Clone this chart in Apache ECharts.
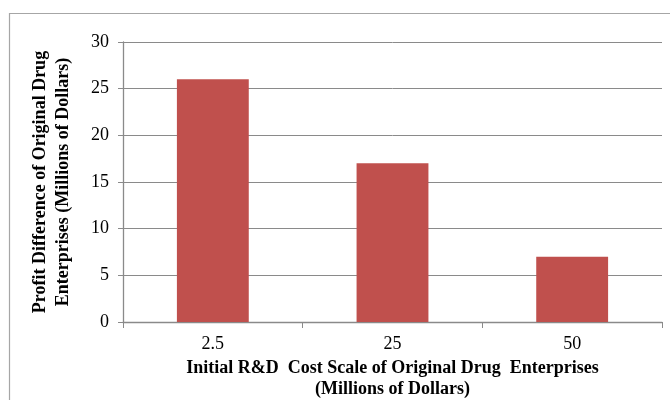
<!DOCTYPE html>
<html>
<head>
<meta charset="utf-8">
<script src="https://cdn.jsdelivr.net/npm/echarts@6/dist/echarts.min.js"></script>
<style>
  html, body { margin: 0; padding: 0; background: #fff; }
  #chart { width: 670px; height: 400px; }
</style>
</head>
<body>
<div id="chart"></div>
<script>
// R&D cost scale categories (millions of dollars)
const categories = ['2.5', '25', '50'];
// Profit difference of original drug enterprises (millions of dollars)
const profitDiff = [26, 17, 7];
// Value axis ticks
const yTicks = [0, 5, 10, 15, 20, 25, 30];

const serif = '"Liberation Serif", "Times New Roman", serif';
const gridGray = '#8a8a8a';

const chart = echarts.init(document.getElementById('chart'), null, { renderer: 'canvas' });

chart.setOption({
  backgroundColor: '#ffffff',
  animation: false,
  graphic: [{
    type: 'rect',
    shape: { x: 9.5, y: 13.5, width: 700, height: 420 },
    style: { fill: 'none', stroke: '#a6a6a6', lineWidth: 1.2 },
    silent: true,
    z: -1
  }],
  grid: { left: 123, right: 8, top: 42, bottom: 78, containLabel: false, outerBoundsMode: 'none' },
  xAxis: {
    type: 'category',
    data: categories,
    axisLine: { lineStyle: { color: gridGray, width: 1.3 } },
    axisTick: { show: true, alignWithLabel: false, length: 6, lineStyle: { color: gridGray } },
    axisLabel: { color: '#000', fontFamily: serif, fontSize: 18, margin: 13 },
    name: 'Initial R&D  Cost Scale of Original Drug  Enterprises\n(Millions of Dollars)',
    nameLocation: 'middle',
    nameGap: 36,
    nameTextStyle: { color: '#000', fontFamily: serif, fontSize: 18, fontWeight: 'bold', lineHeight: 21 }
  },
  yAxis: {
    type: 'value',
    min: yTicks[0],
    max: yTicks[yTicks.length - 1],
    interval: yTicks[1] - yTicks[0],
    axisLine: { show: true, lineStyle: { color: gridGray, width: 1.3 } },
    axisTick: { show: true, length: 5, lineStyle: { color: gridGray } },
    splitLine: { show: true, lineStyle: { color: gridGray, width: 1 } },
    axisLabel: { color: '#000', fontFamily: serif, fontSize: 18, margin: 14 },
    name: 'Profit Difference of Original Drug\nEnterprises (Millions of Dollars)',
    nameLocation: 'middle',
    nameGap: 48,
    nameTextStyle: { color: '#000', fontFamily: serif, fontSize: 18, fontWeight: 'bold', lineHeight: 23 }
  },
  series: [{
    type: 'bar',
    data: profitDiff,
    barWidth: '40%',
    itemStyle: { color: '#c0504d' }
  }]
});
</script>
</body>
</html>
